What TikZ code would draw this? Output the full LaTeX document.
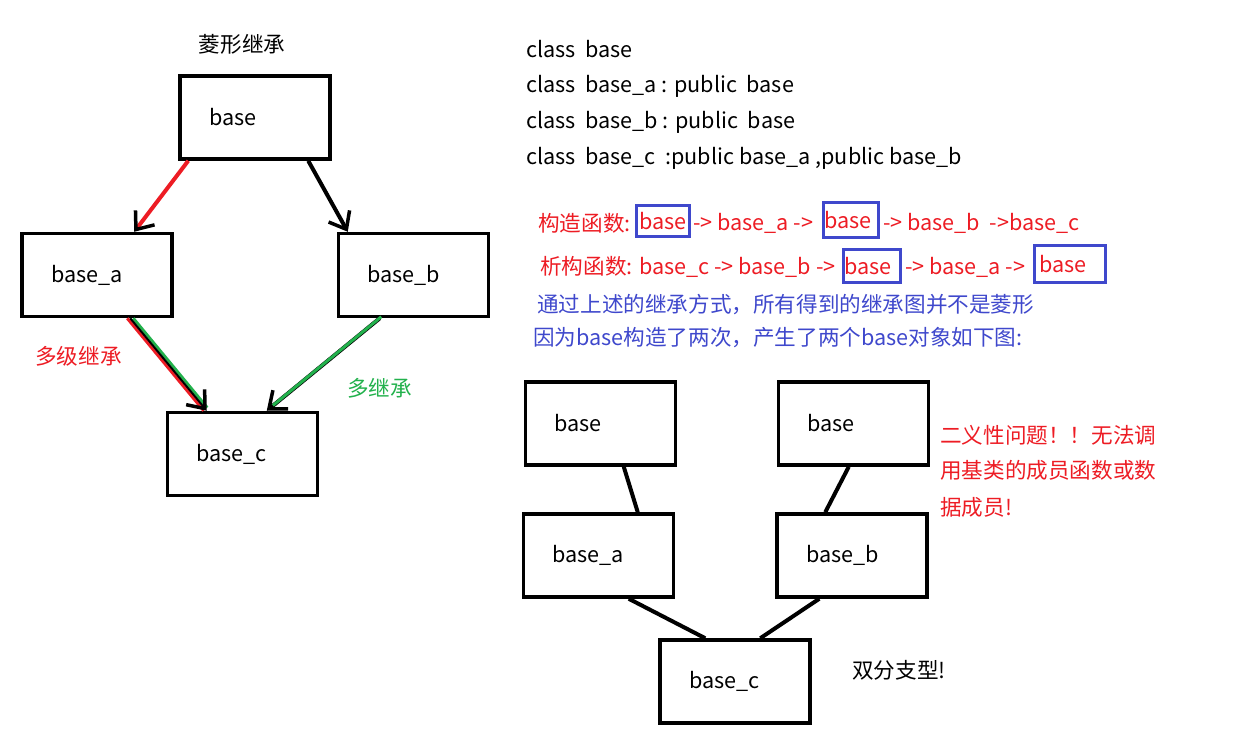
\documentclass[tikz,border=0pt]{standalone}
\usepackage{fontspec}
\setmainfont{Noto Sans CJK SC}
\usetikzlibrary{arrows.meta,positioning}
\definecolor{pred}{RGB}{237,28,36}
\definecolor{pgreen}{RGB}{34,177,76}
\definecolor{pblue}{RGB}{63,72,204}
\begin{document}
\begin{tikzpicture}[x=1pt,y=-1pt,
    every node/.style={font=\fontsize{21.6}{26}\selectfont},
    box/.style={draw,line width=3.5pt,minimum width=150pt,minimum height=83pt,text width=92pt,inner xsep=29pt,align=left},
    txt/.style={anchor=west,inner sep=0pt},
    hl/.style={draw=pblue,line width=3pt,text=pred,inner xsep=1pt,inner ysep=0pt,align=left},
    link/.style={line width=4pt},
    headarrow/.style={-{Straight Barb[length=15pt,width=24pt,line width=3.5pt,color=black]}}]
        \useasboundingbox (0,0) rectangle (1249,744);
        \node (title) at (242,44) {菱形继承};
        \node[box] (base) at (255,117.5) {base};
        \node[box] (basea) at (97,275) {base\_a};
        \node[box] (baseb) at (413.5,275) {base\_b};
        \node[box] (basec) at (242.5,454) {base\_c};
        \draw[link,pred,headarrow] ([xshift=10pt]base.south west) -- ([xshift=114pt]basea.north west);
        \draw[link,headarrow] ([xshift=130pt]base.south west) -- ([xshift=11pt]baseb.north west);
        \draw[line width=3pt,pred,transform canvas={xshift=-3pt}] ([xshift=110pt]basea.south west) -- ([xshift=41pt]basec.north west);
        \draw[line width=3pt,pgreen,transform canvas={xshift=3pt},shorten >=4pt] ([xshift=110pt]basea.south west) -- ([xshift=41pt]basec.north west);
        \draw[line width=2pt,headarrow] ([xshift=110pt]basea.south west) -- ([xshift=41pt]basec.north west);
        \draw[link,headarrow] ([xshift=43pt]baseb.south west) -- ([xshift=101pt]basec.north west);
        \draw[line width=3pt,pgreen,transform canvas={xshift=1.5pt,yshift=1.5pt},shorten >=6pt] ([xshift=43pt]baseb.south west) -- ([xshift=101pt]basec.north west);
        \node[txt,pred] (multilevel) at (35,356) {多级继承};
        \node[txt,pgreen] (multiple) at (347,388) {多继承};
        \node[txt] (cls1) at (526,49) {class\ \ base};
        \node[txt] (cls2) at (526,86) {class\ \ base\_a : public\ \ base};
        \node[txt] (cls3) at (526,122) {class\ \ base\_b : public\ \ base};
        \node[txt] (cls4) at (526,158) {class\ \ base\_c\ \ :public base\_a ,public base\_b};
        \node[txt,pred] (ctor) at (538,223) {构造函数:};
        \node[hl,minimum width=53pt,minimum height=31pt,text width=47pt] (ctorbox1) at (663,221) {base};
        \node[txt,pred] (ctor1) at (693,223) {-> base\_a ->};
        \node[hl,minimum width=55pt,minimum height=35pt,text width=53pt] (ctorbox2) at (851,220) {base};
        \node[txt,pred] (ctor2) at (883,223) {-> base\_b\ \ ->base\_c};
        \node[txt,pred] (dtor) at (540,267) {析构函数: base\_c -> base\_b ->};
        \node[hl,minimum width=57pt,minimum height=33pt,text width=55pt] (dtorbox1) at (872,266) {base};
        \node[txt,pred] (dtor1) at (905,267) {-> base\_a ->};
        \node[hl,minimum width=71pt,minimum height=37pt,text width=61pt,inner xsep=5pt] (dtorbox2) at (1070,264) {base};
        \node[txt,pblue] (note1) at (537,305) {通过上述的继承方式，所有得到的继承图并不是菱形};
        \node[txt,pblue] (note2) at (533,338) {因为base构造了两次，产生了两个base对象如下图:};
        \node[box] (rbase1) at (600.5,423.5) {base};
        \node[box] (rbase2) at (853.5,423.5) {base};
        \node[box] (rbasea) at (598.5,555.5) {base\_a};
        \node[box] (rbaseb) at (852,555.5) {base\_b};
        \node[box] (rbasec) at (735,681.5) {base\_c};
        \draw[link] ([xshift=100pt]rbase1.south west) -- ([xshift=116pt]rbasea.north west);
        \draw[link] ([xshift=72pt]rbase2.south west) -- ([xshift=50pt]rbaseb.north west);
        \draw[link] ([xshift=107pt]rbasea.south west) -- ([xshift=47pt]rbasec.north west);
        \draw[link] ([xshift=44pt]rbaseb.south west) -- ([xshift=102pt]rbasec.north west);
        \node[txt,pred] (amb1) at (940,435) {二义性问题！！无法调};
        \node[txt,pred] (amb2) at (940,470) {用基类的成员函数或数};
        \node[txt,pred] (amb3) at (940,507) {据成员!};
        \node[txt] (fork) at (852,670) {双分支型!};
\end{tikzpicture}
\end{document}
